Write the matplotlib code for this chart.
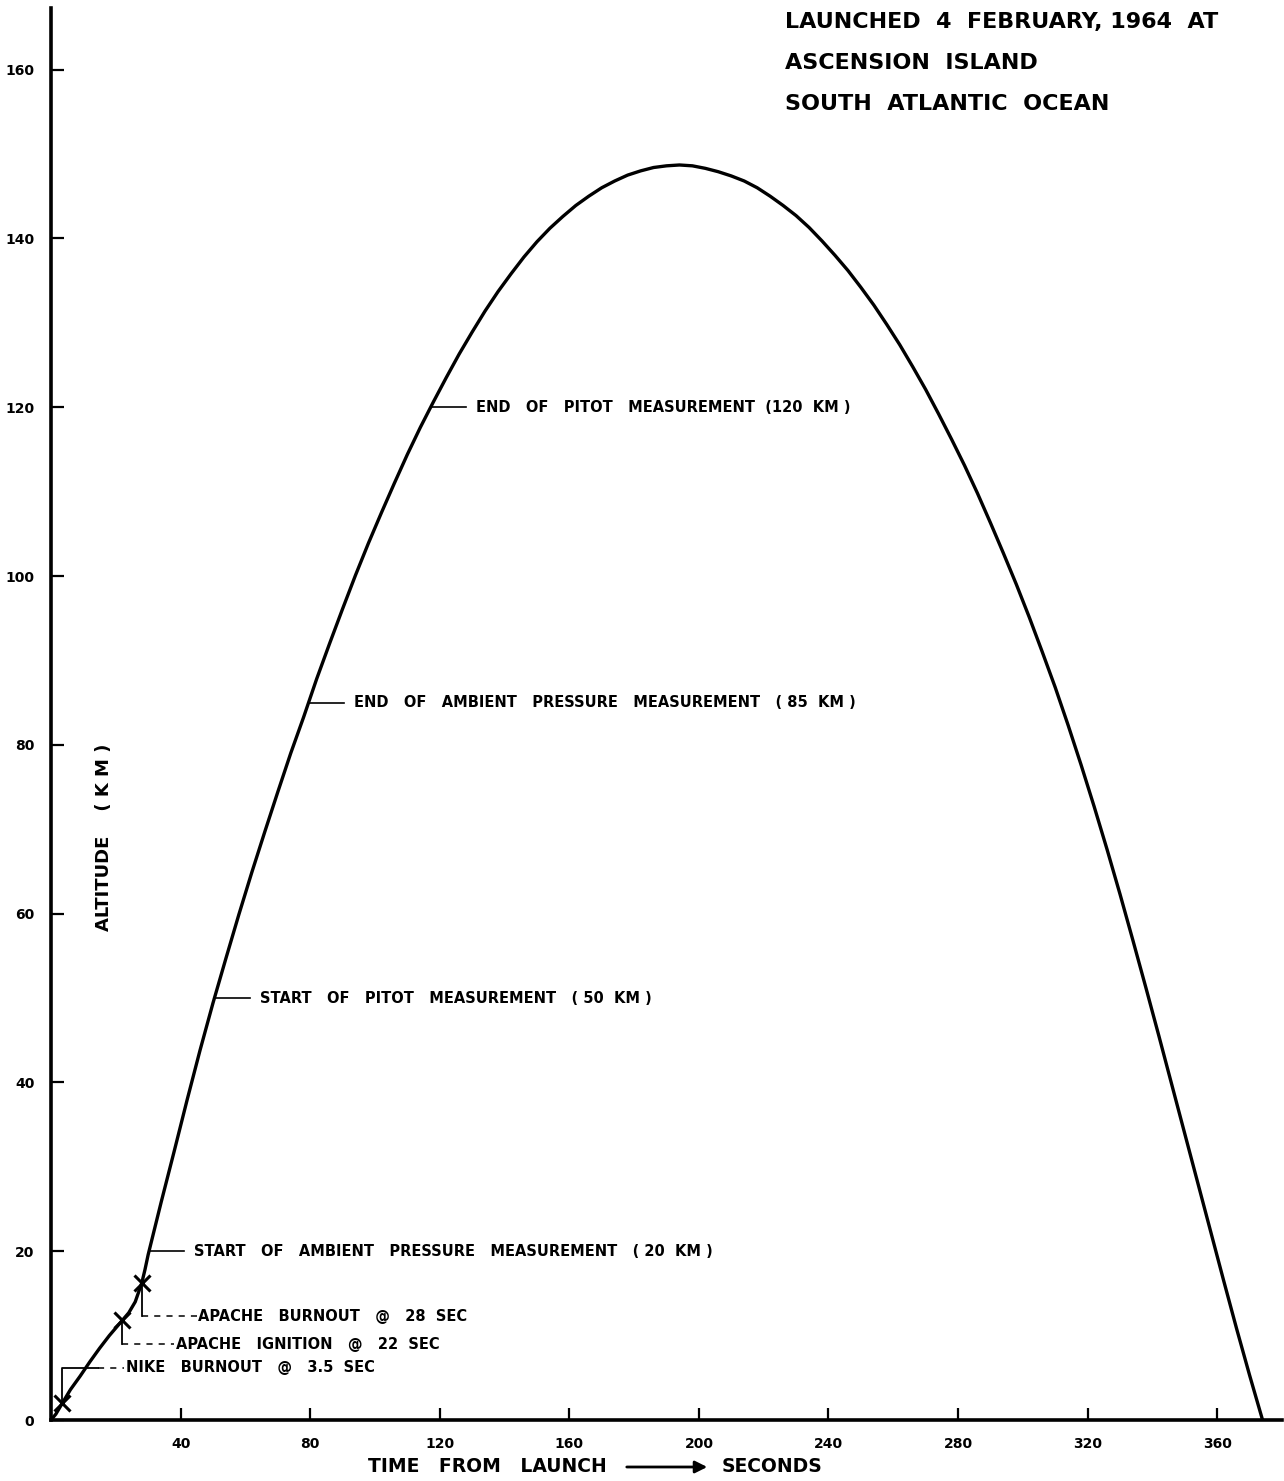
import numpy as np
import matplotlib
matplotlib.use('Agg')
import matplotlib.pyplot as plt

plt.rcParams['font.family'] = ['DejaVu Sans']
plt.rcParams['font.weight'] = 'bold'

# trajectory (time s, altitude km)
time_s = [0, 1.5, 3.5, 6, 9, 12, 15, 18, 20, 22, 24, 26, 28, 29, 30,
          34, 38, 42, 46, 50, 54, 58, 62, 66, 70, 74, 78, 82, 86, 90, 94, 98, 102,
          106, 110, 114, 118, 122, 126, 130, 134, 138, 142, 146, 150, 154, 158, 162,
          166, 170, 174, 178, 182, 186, 190, 194,
          198, 202, 206, 210, 214, 218, 222, 226, 230, 234, 238, 242, 246, 250, 254,
          258, 262, 266, 270, 274, 278, 282, 286, 290, 294, 298, 302, 306, 310, 314,
          318, 322, 326, 330, 334, 338, 342, 346, 350, 354, 358, 362, 366, 370, 374]
alt_km = [0, 0.7, 2.0, 3.6, 5.2, 6.9, 8.5, 10.0, 10.9, 11.8, 12.7, 14.0, 16.2, 17.8, 19.6,
          25.8, 31.8, 37.9, 43.8, 49.4, 54.7, 59.9, 64.9, 69.7, 74.4, 79.0, 83.3, 87.8,
          92.0, 96.1, 100.1, 103.9, 107.5, 111.0, 114.4, 117.6, 120.6, 123.5, 126.3,
          128.9, 131.4, 133.7, 135.8, 137.8, 139.6, 141.2, 142.6, 143.9, 145.0, 146.0,
          146.8, 147.5, 148.0, 148.4, 148.6, 148.7,
          148.6, 148.3, 147.9, 147.4, 146.8, 146.0, 145.0, 143.9, 142.7, 141.3, 139.7,
          138.0, 136.2, 134.2, 132.1, 129.8, 127.4, 124.8, 122.1, 119.2, 116.2, 113.1,
          109.8, 106.3, 102.7, 99.0, 95.1, 91.0, 86.8, 82.3, 77.6, 72.7, 67.6, 62.3,
          56.8, 51.2, 45.5, 39.7, 33.9, 28.1, 22.3, 16.5, 10.8, 5.3, 0]

# stage events
event_t = [3.5, 22, 28]
event_alt = [2.0, 11.8, 16.2]
event_text = ['NIKE   BURNOUT   @   3.5  SEC', 'APACHE   IGNITION   @   22  SEC',
              'APACHE   BURNOUT   @   28  SEC']

# measurement markers
meas_alt = [20, 50, 85, 120]
meas_t = [30.1, 50.5, 79.5, 117.2]
meas_text = ['START   OF   AMBIENT   PRESSURE   MEASUREMENT   ( 20  KM )',
             'START   OF   PITOT   MEASUREMENT   ( 50  KM )',
             'END   OF   AMBIENT   PRESSURE   MEASUREMENT   ( 85  KM )',
             'END   OF   PITOT   MEASUREMENT  (120  KM )']

xticks = [40, 80, 120, 160, 200, 240, 280, 320, 360]
yticks = [0, 20, 40, 60, 80, 100, 120, 140, 160]

fig = plt.figure(figsize=(12.84, 14.81), dpi=100)
ax = fig.add_axes([51 / 1284, 61 / 1481, 1231 / 1284, 1412 / 1481])
ax.set_xlim(0, 380)
ax.set_ylim(0, 167.3)

ax.plot(time_s, alt_km, color='black', lw=2.4, solid_joinstyle='round')
ax.plot(event_t, event_alt, 'x', color='black', ms=11, mew=2.2)

for sp in ['top', 'right']:
    ax.spines[sp].set_visible(False)
for sp in ['left', 'bottom']:
    ax.spines[sp].set_linewidth(2.6)

ax.set_xticks(xticks)
ax.set_yticks(yticks)
ax.set_xticklabels([str(v) for v in xticks])
ax.set_yticklabels([str(v) for v in yticks])
ax.tick_params(direction='in', length=9, width=1.6, labelsize=10, pad=12)

# measurement leader lines
for t, a, s in zip(meas_t, meas_alt, meas_text):
    ax.plot([t, t + 11], [a, a], color='black', lw=1.2)
    ax.text(t + 14, a, s, fontsize=10.5, fontweight='bold', va='center', ha='left')

# event leaders
tn, an = event_t[0], event_alt[0]
ax.plot([tn, tn, tn + 11], [an, 6.2, 6.2], color='black', lw=1.3)
ax.plot([tn + 11, tn + 19], [6.2, 6.2], color='black', lw=1.1, ls=(0, (4, 4)))
ax.text(tn + 19.5, 6.2, event_text[0], fontsize=10.5, fontweight='bold', va='center')

ti, ai = event_t[1], event_alt[1]
ax.plot([ti, ti], [ai, 9.0], color='black', lw=1.3)
ax.plot([ti, ti + 16], [9.0, 9.0], color='black', lw=1.1, ls=(0, (4, 4)))
ax.text(ti + 16.5, 9.0, event_text[1], fontsize=10.5, fontweight='bold', va='center')

tb, ab = event_t[2], event_alt[2]
ax.plot([tb, tb], [ab, 12.3], color='black', lw=1.3)
ax.plot([tb, tb + 17], [12.3, 12.3], color='black', lw=1.1, ls=(0, (4, 4)))
ax.text(tb + 17.5, 12.3, event_text[2], fontsize=10.5, fontweight='bold', va='center')

# axis titles
ax.text(16.5, 69, 'ALTITUDE    ( K M )', rotation=90, fontsize=13, fontweight='bold',
        ha='center', va='center')
fig.text(368 / 1284, 1 - 1467 / 1481, 'TIME   FROM   LAUNCH', fontsize=13.5,
         fontweight='bold', ha='left', va='center')
ax.annotate('', xy=(710 / 1284, 1 - 1467 / 1481), xytext=(624 / 1284, 1 - 1467 / 1481),
            xycoords='figure fraction', textcoords='figure fraction',
            arrowprops=dict(arrowstyle='-|>', color='black', lw=2, mutation_scale=18),
            annotation_clip=False)
fig.text(722 / 1284, 1 - 1467 / 1481, 'SECONDS', fontsize=13.5, fontweight='bold',
         ha='left', va='center')

# launch info
info = ['LAUNCHED  4  FEBRUARY, 1964  AT', 'ASCENSION  ISLAND', 'SOUTH  ATLANTIC  OCEAN']
for i, line in enumerate(info):
    fig.text(785 / 1284, 1 - (22 + 41 * i) / 1481, line, fontsize=16, fontweight='bold',
             ha='left', va='center')

fig.savefig('out.png', dpi=100)
